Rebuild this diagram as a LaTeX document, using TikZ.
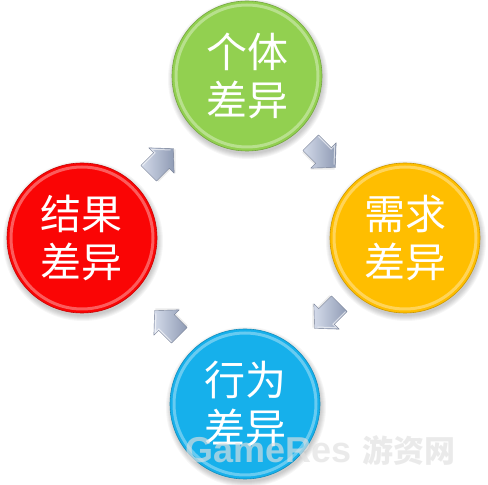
\documentclass[tikz,border=0pt]{standalone}
\usepackage{fontspec}
\newfontfamily\cjk{Noto Sans CJK SC}
\newfontfamily\wm{Liberation Sans}
\definecolor{cgreen}{RGB}{146,208,80}
\definecolor{corange}{RGB}{255,190,0}
\definecolor{cred}{RGB}{250,5,5}
\definecolor{cblue}{RGB}{22,176,235}
\definecolor{carrow}{RGB}{168,182,212}
\tikzset{
  ball/.style={circle, minimum size=150pt, inner sep=0pt, text=white,
    font=\cjk\fontsize{41}{48}\selectfont, align=center},
  flow/.style={draw=carrow!70!black, line width=0.4pt, line join=round,
    left color=carrow!50!white, right color=carrow!85!black},
  flowtop/.style={draw=white, line width=1pt, opacity=0.6},
  wmark/.style={inner sep=0pt, text=white!88!black, text opacity=0.65},
}
\newcommand\myball[4]{%
  \foreach \k in {0,...,5}
    \fill[black, opacity=0.035] (#2) ++(1pt,-3pt) circle ({75pt+\k pt});
  \node[ball, fill=#3, draw=#3!80!black, line width=0.6pt] (#1) at (#2) {#4};
  \draw[white, opacity=0.35, line width=3pt] (#1.center) circle (71pt);
}
% block arrow: name, position, rotation
\newcommand\myarrow[3]{%
  \coordinate (#1) at (#2);
  \begin{scope}[shift={(#1)}, rotate=#3]
    \fill[black, opacity=0.08] (-15,-13) -- (3,-13) -- (3,-19) -- (20,-2) -- (3,15) -- (3,9) -- (-15,9) -- cycle;
    \path[flow] (-16,-11) -- (2,-11) -- (2,-18) -- (19,0) -- (2,18) -- (2,11) -- (-16,11) -- cycle;
    \draw[flowtop] (-15,10) -- (3,10) -- (3,15) -- (16,1);
  \end{scope}
}
\begin{document}
\begin{tikzpicture}[x=1pt,y=1pt]
  \fill[white] (0,0) rectangle (488,485);
  \useasboundingbox (0,0) rectangle (488,485);
  \myball{geti}{247,409}{cgreen}{个体\\差异}
  \myball{xuqiu}{405,247}{corange}{需求\\差异}
  \myball{xingwei}{245,81}{cblue}{行为\\差异}
  \myball{jieguo}{82,247}{cred}{结果\\差异}
  \myarrow{a1}{160,323}{45}
  \myarrow{a2}{322,331}{-45}
  \myarrow{a3}{328,170}{-135}
  \myarrow{a4}{168,161}{135}
  \node[wmark, anchor=base west, font=\wm\bfseries\fontsize{36}{36}\selectfont] (w1) at (185,22) {GameRes};
  \node[wmark, anchor=base west, font=\cjk\bfseries\fontsize{31}{31}\selectfont] (w2) at (362,22) {游资网};
\end{tikzpicture}
\end{document}
